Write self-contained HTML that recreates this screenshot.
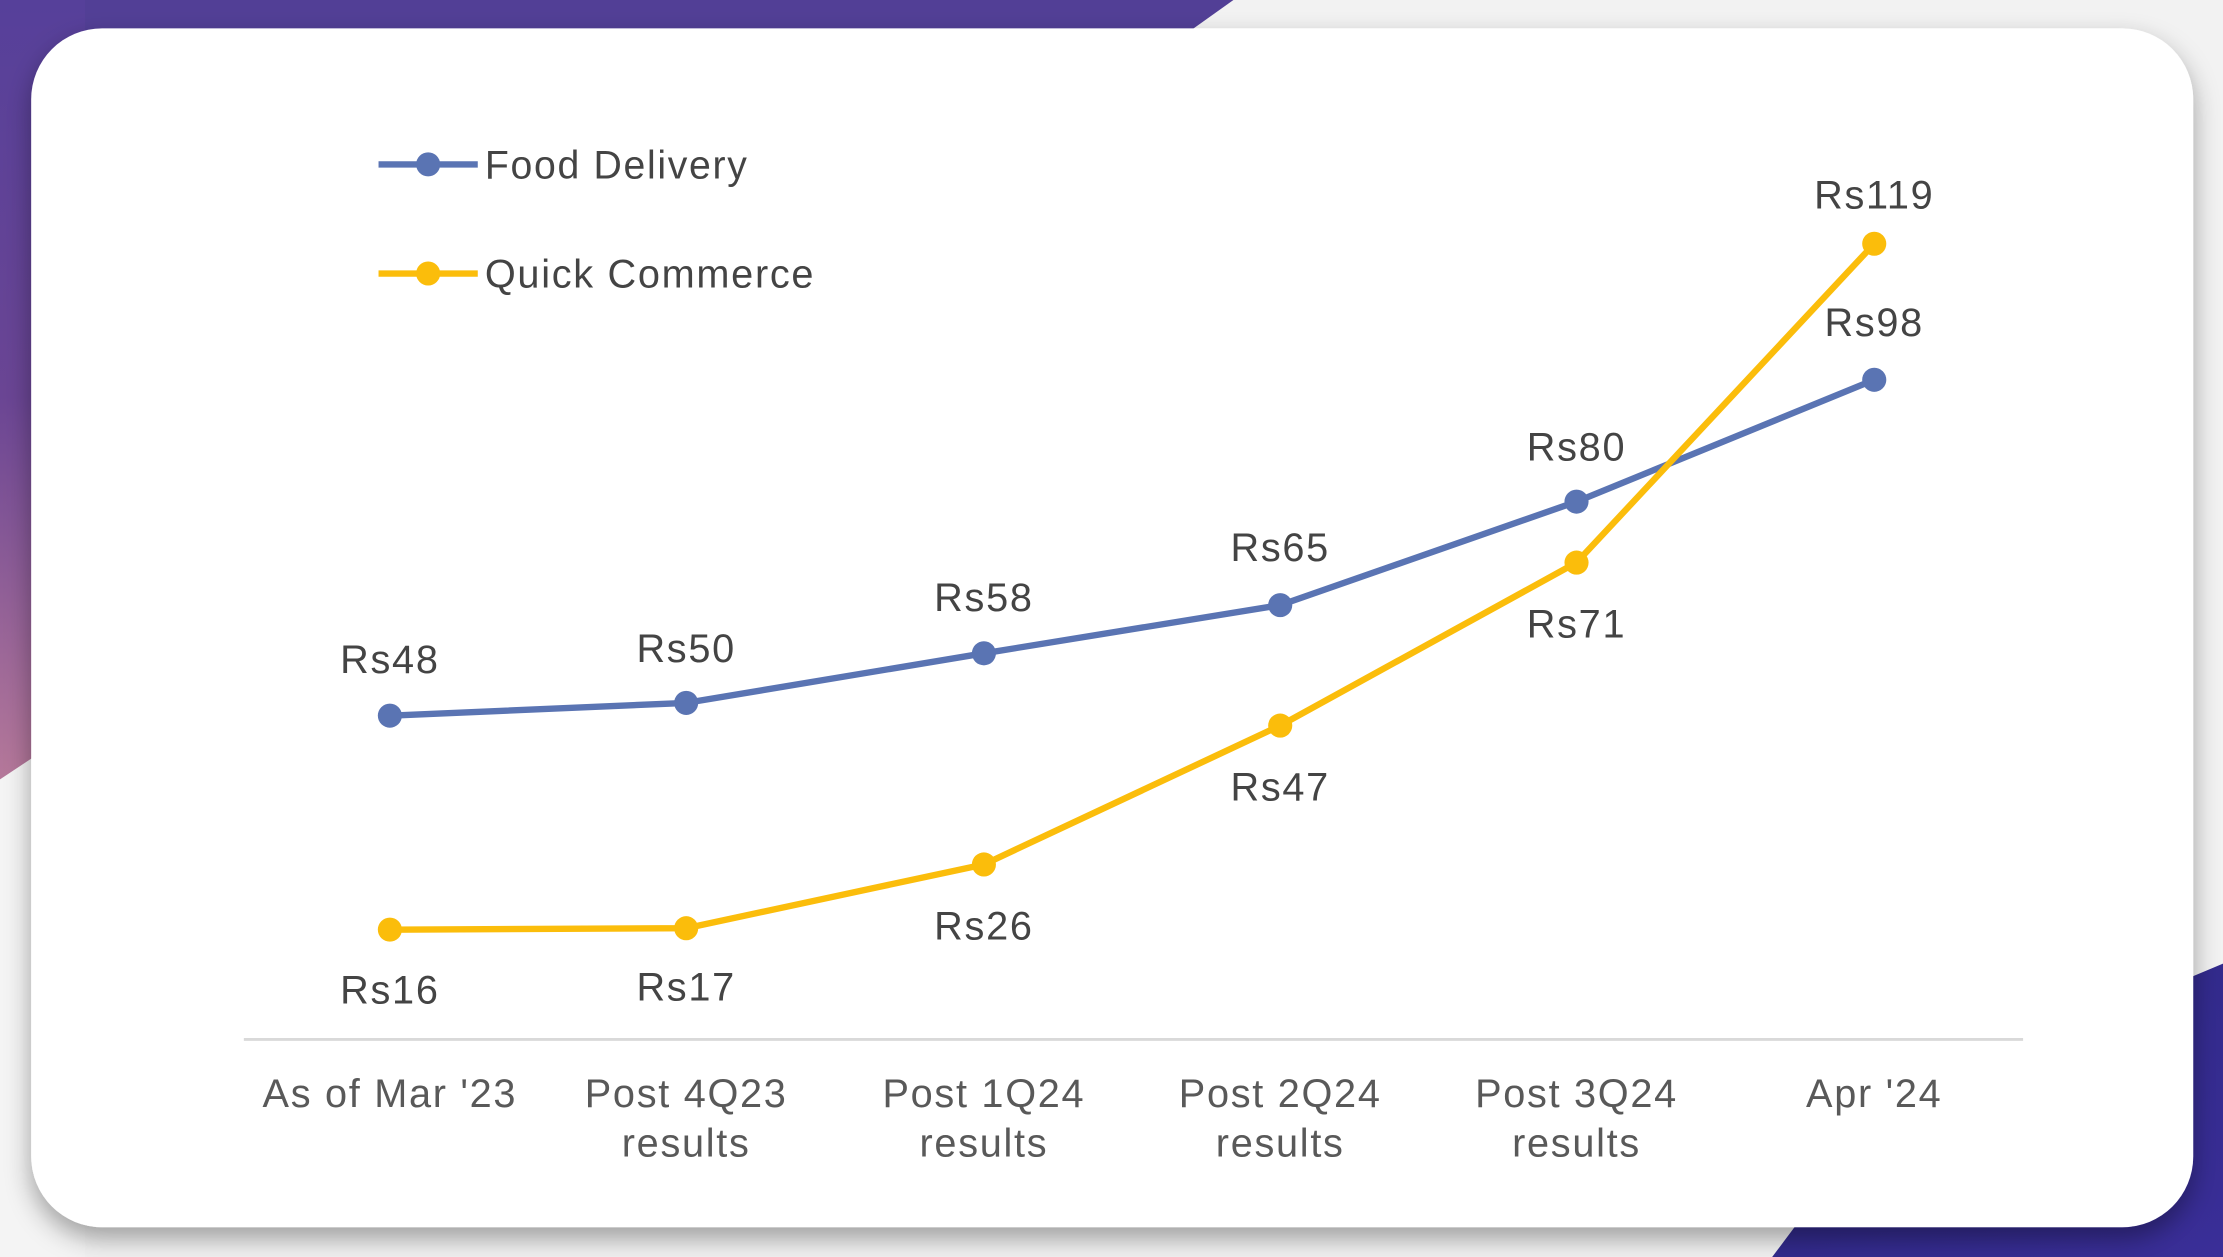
<!DOCTYPE html>
<html><head><style>
html,body{margin:0;padding:0;width:2223px;height:1257px;overflow:hidden;background:#fff}
svg{display:block}
text{font-family:"Liberation Sans",Arial,sans-serif;fill:#444;letter-spacing:1.2px}
</style></head><body>
<svg width="2223" height="1257" viewBox="0 0 1568 887" preserveAspectRatio="none">
<defs>
<linearGradient id="lg" x1="0" y1="0" x2="0" y2="1">
<stop offset="0" stop-color="#56409a"/><stop offset="0.5" stop-color="#6a4594"/><stop offset="1" stop-color="#b87a9a"/>
</linearGradient>
<linearGradient id="br" x1="0" y1="0" x2="1" y2="1">
<stop offset="0" stop-color="#2a2680"/><stop offset="1" stop-color="#3a2e98"/>
</linearGradient>
<filter id="sh" x="-5%" y="-5%" width="110%" height="115%"><feDropShadow dx="0" dy="8" stdDeviation="9" flood-color="#000" flood-opacity="0.35"/></filter>
</defs>
<rect width="1568" height="887" fill="#f2f2f2"/>
<polygon points="0,0 870,0 835,25 0,25" fill="#523f96"/>
<polygon points="0,0 60,0 60,560 0,555" fill="url(#lg)"/>
<polygon points="0,550 60,510 60,887 0,887" fill="#f4f4f4"/>
<polygon points="1568,680 1568,887 1250,887 1330,780" fill="url(#br)"/>
<rect x="22" y="20" width="1525" height="846" rx="50" fill="#fff" filter="url(#sh)"/>
<line x1="172" y1="733.5" x2="1427" y2="733.5" stroke="#d9d9d9" stroke-width="2"/>
<g fill="none" stroke-width="4.5" stroke-linejoin="round">
<polyline points="275,505 484,496 694,461 903,427 1112,354 1322,268" stroke="#5a74b3"/>
<polyline points="275,656 484,655 694,610 903,512 1112,397 1322,172" stroke="#fbbd0b"/>
</g>
<g fill="#5a74b3">
<circle cx="275" cy="505" r="8.5"/><circle cx="484" cy="496" r="8.5"/><circle cx="694" cy="461" r="8.5"/><circle cx="903" cy="427" r="8.5"/><circle cx="1112" cy="354" r="8.5"/><circle cx="1322" cy="268" r="8.5"/>
</g>
<g fill="#fbbd0b">
<circle cx="275" cy="656" r="8.5"/><circle cx="484" cy="655" r="8.5"/><circle cx="694" cy="610" r="8.5"/><circle cx="903" cy="512" r="8.5"/><circle cx="1112" cy="397" r="8.5"/><circle cx="1322" cy="172" r="8.5"/>
</g>
<g font-size="28" text-anchor="middle">
<text x="275" y="475">Rs48</text><text x="484" y="467">Rs50</text><text x="694" y="431">Rs58</text><text x="903" y="396">Rs65</text><text x="1112" y="325">Rs80</text><text x="1322" y="237">Rs98</text>
<text x="275" y="708">Rs16</text><text x="484" y="706">Rs17</text><text x="694" y="663">Rs26</text><text x="903" y="565">Rs47</text><text x="1112" y="450">Rs71</text><text x="1322" y="147">Rs119</text>
</g>
<g font-size="28" text-anchor="middle">
<text x="275" y="781" style="fill:#595959">As of Mar '23</text>
<text x="484" y="781" style="fill:#595959">Post 4Q23</text><text x="484" y="816" style="fill:#595959">results</text>
<text x="694" y="781" style="fill:#595959">Post 1Q24</text><text x="694" y="816" style="fill:#595959">results</text>
<text x="903" y="781" style="fill:#595959">Post 2Q24</text><text x="903" y="816" style="fill:#595959">results</text>
<text x="1112" y="781" style="fill:#595959">Post 3Q24</text><text x="1112" y="816" style="fill:#595959">results</text>
<text x="1322" y="781" style="fill:#595959">Apr '24</text>
</g>
<line x1="267" y1="116" x2="337" y2="116" stroke="#5a74b3" stroke-width="4.5"/>
<circle cx="302" cy="116" r="8.5" fill="#5a74b3"/>
<line x1="267" y1="193" x2="337" y2="193" stroke="#fbbd0b" stroke-width="4.5"/>
<circle cx="302" cy="193" r="8.5" fill="#fbbd0b"/>
<text x="342" y="126" font-size="28" textLength="186" lengthAdjust="spacingAndGlyphs">Food Delivery</text>
<text x="342" y="203" font-size="28" textLength="233" lengthAdjust="spacingAndGlyphs">Quick Commerce</text>
</svg>
</body></html>
